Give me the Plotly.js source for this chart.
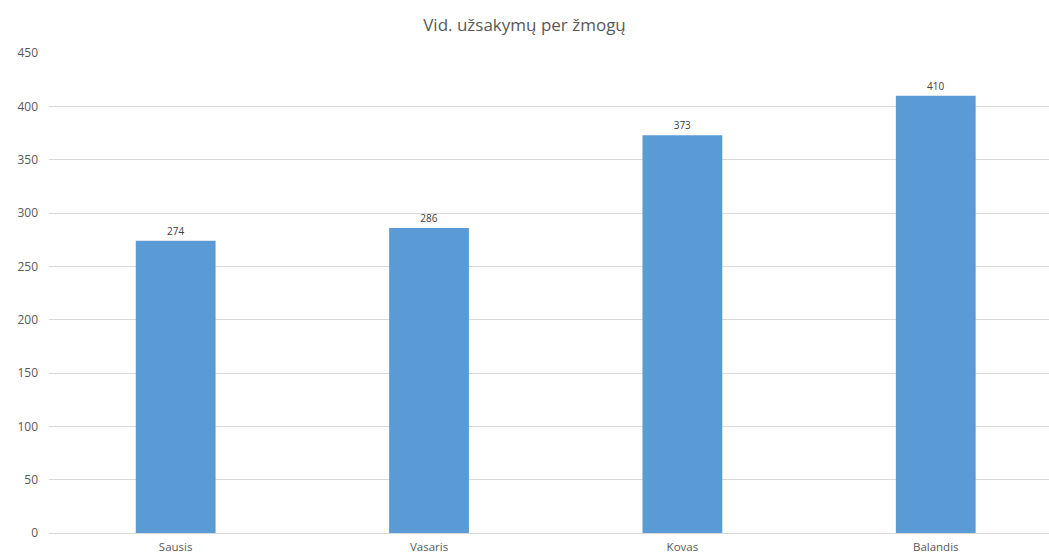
<!DOCTYPE html>
<html>
<head>
<meta charset="utf-8">
<script src="https://cdn.plot.ly/plotly-3.0.1.min.js"></script>
<style>html,body{margin:0;padding:0;background:#fff;}#chart{width:1049px;height:556px;}</style>
</head>
<body>
<div id="chart"></div>
<script>
const categories = ["Sausis", "Vasaris", "Kovas", "Balandis"];
const values = [274, 286, 373, 410];
const yTicks = [0, 50, 100, 150, 200, 250, 300, 350, 400, 450];

const trace = {
  type: "bar",
  x: categories,
  y: values,
  text: values.map(String),
  textposition: "outside",
  textfont: {family: "Open Sans, sans-serif", size: 10, color: "#404040"},
  cliponaxis: false,
  marker: {color: "#5B9BD5"},
  hoverinfo: "x+y"
};

const layout = {
  width: 1049,
  height: 556,
  margin: {l: 49, r: 0, t: 53, b: 23},
  paper_bgcolor: "#fff",
  plot_bgcolor: "#fff",
  bargap: 0.685,
  showlegend: false,
  title: {
    text: "Vid. užsakymų per žmogų",
    font: {family: "Open Sans, sans-serif", size: 17, color: "#595959"},
    x: 0.5, xanchor: "center", y: 0.955, yanchor: "middle"
  },
  xaxis: {
    range: [-0.5, 3.447],
    showgrid: false,
    zeroline: false,
    showline: false,
    ticks: "",
    ticklabelstandoff: 5,
    tickfont: {family: "Open Sans, sans-serif", size: 11.5, color: "#595959"},
    fixedrange: true
  },
  yaxis: {
    range: [0, 450],
    tickvals: yTicks,
    ticktext: yTicks.map(String),
    showgrid: true,
    gridcolor: "#D9D9D9",
    gridwidth: 1,
    zeroline: true,
    zerolinecolor: "#D9D9D9",
    zerolinewidth: 1,
    showline: false,
    ticks: "",
    ticklabelstandoff: 10,
    tickfont: {family: "Open Sans, sans-serif", size: 12, color: "#595959"},
    fixedrange: true
  }
};

Plotly.newPlot("chart", [trace], layout, {displayModeBar: false, staticPlot: true});
</script>
</body>
</html>
